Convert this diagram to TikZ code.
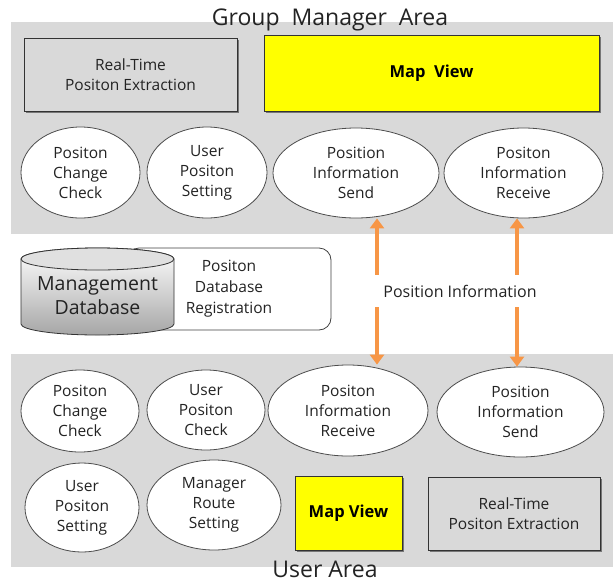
\documentclass[tikz,border=0pt]{standalone}
\usepackage{fontspec}
\setmainfont{Open Sans}
\usetikzlibrary{shapes.geometric,shadows,arrows.meta}
\definecolor{areagray}{RGB}{217,217,217}
\definecolor{arroworange}{RGB}{247,150,70}
\definecolor{mapyellow}{RGB}{255,255,0}
\definecolor{txt}{RGB}{35,35,35}
\begin{document}
\begin{tikzpicture}[x=1pt,y=-1pt,
  area/.style={rectangle,fill=areagray,draw=none,anchor=north west,inner sep=0pt},
  areatitle/.style={font=\fontsize{23}{26}\selectfont,text=txt,inner sep=0pt},
  ell/.style={ellipse,draw=black!70,fill=white,line width=0.8pt,inner sep=0pt,align=center,
    font=\fontsize{15.5}{20}\selectfont,text=txt},
  boxshadow/.style={drop shadow={shadow xshift=2pt,shadow yshift=-2pt,fill=black,opacity=0.45}},
  graybox/.style={rectangle,draw=black!80,line width=0.9pt,fill=areagray,align=center,inner sep=0pt,
    font=\fontsize{15.5}{20}\selectfont,text=txt,boxshadow},
  yellowbox/.style={rectangle,draw=black!80,line width=0.9pt,fill=mapyellow,align=center,inner sep=0pt,
    font=\fontsize{16.5}{20}\bfseries,text=black,boxshadow},
  infoarrow/.style={draw=arroworange,line width=3.5pt,{Triangle[width=14pt,length=10pt]}-{Triangle[width=14pt,length=10pt]}},
]
\useasboundingbox (0,0) rectangle (613,582);

% areas
\node[area,minimum width=602pt,minimum height=212pt] (toparea) at (11,22) {};
\node[area,minimum width=602pt,minimum height=213pt] (botarea) at (11,354) {};
\node[areatitle] (gtitle) at (330,20) {Group\ \ Manager\ \ Area};
\node[areatitle] (utitle) at (325,569) {User Area};

% top area
\node[graybox,minimum width=213pt,minimum height=73pt] (rt1) at (130.5,74.5) {Real-Time\\Positon Extraction};
\node[yellowbox,minimum width=335pt,minimum height=76pt] (mv1) at (431.5,73) {Map\ \ View};
\node[ell,minimum width=119pt,minimum height=91pt] (e1) at (80.5,172.5) {Positon\\Change\\Check};
\node[ell,minimum width=120pt,minimum height=91pt] (e2) at (207,172.5) {User\\Positon\\Setting};
\node[ell,minimum width=166pt,minimum height=90pt] (e3) at (356,173) {Position\\Information\\Send};
\node[ell,minimum width=159pt,minimum height=90pt] (e4) at (523.5,173) {Positon\\Information\\Receive};

% middle: registration box and database
\node[rectangle,rounded corners=12pt,draw=black!75,line width=0.8pt,fill=white,
  minimum width=204pt,minimum height=82pt,align=center,inner sep=0pt,
  font=\fontsize{15.5}{21}\selectfont,text=txt] (reg) at (229,289) {Positon\\Database\\Registration};
\shade[top color=white,bottom color=black!35,draw=black!80,line width=0.8pt]
  (21,259) -- (21,324) arc[start angle=180,end angle=360,x radius=76.5pt,y radius=11pt]
  -- (174,259) arc[start angle=0,end angle=180,x radius=76.5pt,y radius=11pt] -- cycle;
\fill[black!12,draw=black!80,line width=0.8pt] (97.5,259) ellipse[x radius=76.5pt,y radius=11pt];
\node[align=center,inner sep=0pt,font=\fontsize{19.5}{24}\selectfont,text=txt] (mdb) at (97.5,296) {Management\\Database};

% bottom area
\node[ell,minimum width=118pt,minimum height=82pt] (b1) at (80,411) {Positon\\Change\\Check};
\node[ell,minimum width=118pt,minimum height=80pt] (b2) at (206,410) {User\\Positon\\Check};
\node[ell,minimum width=160pt,minimum height=91pt] (b3) at (348,410.5) {Positon\\Information\\Receive};
\node[ell,minimum width=167pt,minimum height=90pt] (b4) at (520.5,412) {Position\\Information\\Send};
\node[ell,minimum width=114pt,minimum height=89pt] (b5) at (82,507.5) {User\\Positon\\Setting};
\node[ell,minimum width=134pt,minimum height=90pt] (b6) at (214,505) {Manager\\Route\\Setting};
\node[yellowbox,minimum width=107pt,minimum height=74pt] (mv2) at (348.5,513) {Map View};
\node[graybox,minimum width=172pt,minimum height=73pt] (rt2) at (514,513.5) {Real-Time\\Positon Extraction};

% arrows
\coordinate (axl) at (377,0);
\coordinate (axr) at (517,0);
\draw[infoarrow] (e3.south -| axl) -- (b3.north -| axl);
\draw[infoarrow] (e4.south -| axr) -- (b4.north -| axr);
\node[fill=white,minimum width=184pt,minimum height=32pt,inner sep=0pt,
  font=\fontsize{16}{20}\selectfont,text=txt] (pinfo) at (460,291) {Position Information};
\end{tikzpicture}
\end{document}
